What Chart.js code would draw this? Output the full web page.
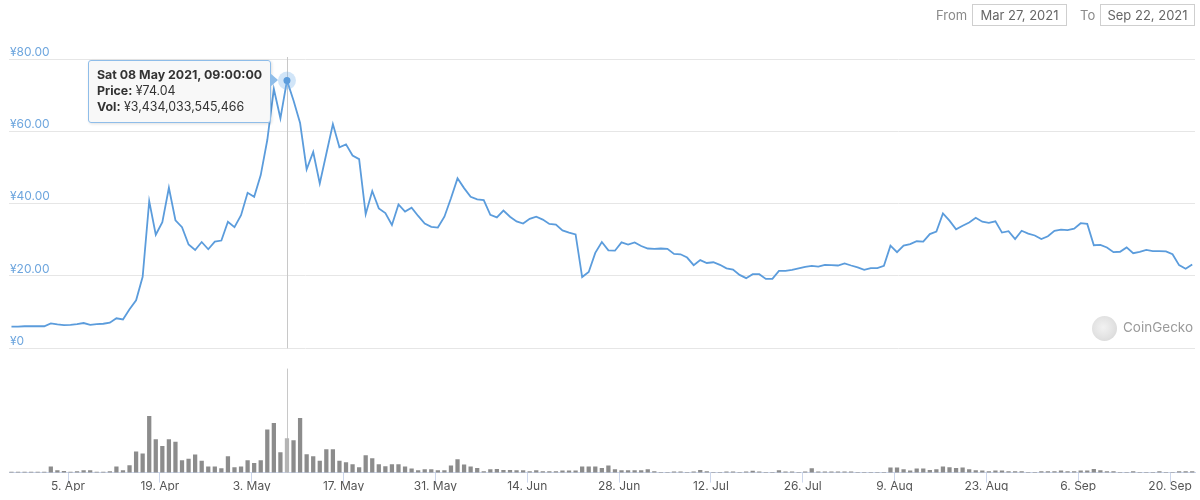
<!DOCTYPE html>
<html>
<head>
<meta charset="utf-8">
<title>Price chart</title>
<script src="https://cdn.jsdelivr.net/npm/chart.js@4.4.1/dist/chart.umd.min.js"></script>
<style>
	html, body { margin: 0; padding: 0; background: #fff; }
	body { position: relative; width: 1200px; height: 500px; overflow: hidden; font-family: Inter, 'Noto Sans', sans-serif; }
	#wrap { position: absolute; left: 0; top: 0; width: 1200px; height: 500px; }
	.lbl { position: absolute; top: 7px; font-size: 13px; color: #8a8a8a; }
	.box { position: absolute; top: 4px; width: 93px; height: 20px; border: 1px solid #cfcfcf; font-size: 13px; color: #666; line-height: 20px; text-align: center; }
	#tip { position: absolute; display: none; box-sizing: border-box; padding: 6px 8px 7px 8px; background: rgba(247, 247, 247, 0.92); border: 1px solid #8fbde9; border-radius: 3px; box-shadow: 1px 1px 3px rgba(0, 0, 0, 0.12); font-size: 12.4px; line-height: 16px; color: #333; white-space: nowrap; }
	#tip b { font-weight: 700; }
	#tip:after { content: ''; position: absolute; right: -8px; top: 12px; border-top: 7px solid transparent; border-bottom: 7px solid transparent; border-left: 8px solid #8fbde9; }
	#gecko { position: absolute; left: 1092px; top: 314px; height: 26px; font-size: 13.5px; color: #9b9b9b; line-height: 26px; }
	#gecko span.logo { display: inline-block; width: 25px; height: 25px; border-radius: 50%; background: radial-gradient(circle at 45% 45%, #f2f2f2 0, #e2e2e2 55%, #d2d2d2 100%); vertical-align: middle; margin-right: 6px; }
</style>
</head>
<body>
<div id="wrap"><canvas id="price-chart" width="1200" height="500"></canvas></div>
<div class="lbl" style="left:936px">From</div>
<div class="box" style="left:972px">Mar 27, 2021</div>
<div class="lbl" style="left:1080px">To</div>
<div class="box" style="left:1100px">Sep 22, 2021</div>
<div id="gecko"><span class="logo"></span>CoinGecko</div>
<div id="tip"></div>
<script>
const START = Date.UTC(2021, 2, 27, 9); // first point, 09:00
const HOUR_OFFSET = 9 / 24;
const HOVER_INDEX = 42; // Sat 08 May

// price in yen, one per day from 27 Mar
const price = [
	6.0, 6.0, 6.1, 6.1, 6.1, 6.1,
	6.9, 6.6, 6.4, 6.5, 6.7, 7.0, 6.5, 6.7, 6.8, 7.1, 8.3, 8.0,
	10.8, 13.3, 19.8, 40.7, 31.4, 34.9, 44.4, 35.4, 33.5, 28.7, 27.2, 29.4,
	27.4, 29.5, 29.8, 35.0, 33.5, 36.8, 43.0, 41.9, 47.9, 57.6, 71.7, 63.6,
	74.04, 68.5, 62.3, 49.5, 54.3, 45.6, 53.8, 62.0, 55.6, 56.4, 53.3, 52.3,
	37.1, 43.5, 38.7, 37.4, 34.1, 39.8, 37.8, 38.9, 36.6, 34.5, 33.6, 33.4,
	36.4, 41.5, 47.0, 44.3, 41.9, 41.2, 41.0, 36.9, 36.2, 38.1, 36.4, 35.1,
	34.5, 35.8, 36.4, 35.6, 34.4, 34.2, 32.6, 32.0, 31.5, 19.7, 21.1, 26.4,
	29.4, 27.1, 27.0, 29.3, 28.7, 29.3, 28.3, 27.6, 27.5, 27.6, 27.5, 26.1,
	26.0, 25.1, 23.0, 24.4, 23.6, 23.8, 23.1, 22.1, 21.8, 20.3, 19.4, 20.5,
	20.5, 19.2, 19.2, 21.4, 21.4, 21.7, 22.1, 22.5, 22.8, 22.6, 23.1, 23.0,
	22.9, 23.5, 22.9, 22.4, 21.7, 22.2, 22.2, 22.8, 28.4, 26.6, 28.4, 28.8,
	29.6, 29.5, 31.6, 32.3, 37.3, 35.3, 32.9, 33.9, 34.8, 36.1, 35.0, 34.7,
	35.1, 32.0, 32.4, 30.2, 32.5, 31.7, 31.2, 30.2, 31.0, 32.5, 32.8, 32.7,
	33.1, 34.6, 34.4, 28.5, 28.6, 27.9, 26.6, 26.7, 27.9, 26.3, 26.7, 27.2,
	26.9, 26.9, 26.8, 26.0, 23.0, 22.0, 23.2,
];

// volume in trillions of yen
const volume = [
	0.05, 0.05, 0.05, 0.05, 0.05, 0.05,
	0.57, 0.2, 0.13, 0.05, 0.1, 0.2, 0.2, 0.05, 0.05, 0.1, 0.57, 0.2,
	0.7, 2.1, 1.9, 5.65, 3.33, 2.63, 3.33, 3.06, 1.21, 1.35, 1.78, 1.15,
	0.57, 0.57, 0.4, 1.62, 0.5, 0.57, 1.21, 0.94, 1.21, 4.31, 4.95, 2.02,
	3.434033545466, 3.23, 5.45, 1.82, 1.62, 1.15, 2.32, 2.32, 1.15, 1.0, 0.8, 0.5,
	1.72, 1.41, 0.8, 0.6, 0.8, 0.8, 0.57, 0.37, 0.2, 0.3, 0.3, 0.2,
	0.2, 0.67, 1.31, 0.77, 0.57, 0.44, 0.1, 0.3, 0.34, 0.24, 0.24, 0.2,
	0.2, 0.1, 0.2, 0.1, 0.1, 0.1, 0.17, 0.17, 0.17, 0.57, 0.57, 0.57,
	0.44, 0.67, 0.3, 0.2, 0.2, 0.2, 0.2, 0.3, 0.1, 0.02, 0.02, 0.08,
	0.08, 0.02, 0.08, 0.24, 0.1, 0.02, 0.02, 0.08, 0.08, 0.02, 0.08, 0.15,
	0.08, 0.02, 0.02, 0.2, 0.08, 0.08, 0.02, 0.08, 0.4, 0.08, 0.08, 0.08,
	0.08, 0.08, 0.08, 0.02, 0.02, 0.02, 0.02, 0.02, 0.47, 0.47, 0.3, 0.17,
	0.37, 0.37, 0.24, 0.3, 0.57, 0.5, 0.44, 0.47, 0.3, 0.2, 0.17, 0.1,
	0.17, 0.17, 0.1, 0.1, 0.1, 0.02, 0.02, 0.1, 0.1, 0.1, 0.17, 0.1,
	0.1, 0.17, 0.17, 0.34, 0.2, 0.1, 0.1, 0.02, 0.02, 0.1, 0.02, 0.02,
	0.02, 0.1, 0.02, 0.02, 0.1, 0.1, 0.1,
];

// x axis ticks, days after 27 Mar
const tickDays = [9, 23, 37, 51, 65, 79, 93, 107, 121, 135, 149, 163, 177];
const tickLabels = ['5. Apr', '19. Apr', '3. May', '17. May', '31. May', '14. Jun', '28. Jun', '12. Jul', '26. Jul', '9. Aug', '23. Aug', '6. Sep', '20. Sep'];
const priceTicks = [0, 20, 40, 60, 80];

const COLORS = {
	line: '#5b9cdc',
	halo: 'rgba(124, 181, 236, 0.35)',
	bar: '#8c8c8c',
	bar_hover: '#b4b4b4',
	grid: '#e6e6e6',
	axis: '#ccd6eb',
	cross: '#c8c8c8',
	ylabel: '#6ea6de',
	xlabel: '#555',
};
const WEEKDAYS = ['Sun', 'Mon', 'Tue', 'Wed', 'Thu', 'Fri', 'Sat'];
const MONTHS = ['Jan', 'Feb', 'Mar', 'Apr', 'May', 'Jun', 'Jul', 'Aug', 'Sep', 'Oct', 'Nov', 'Dec'];

Chart.defaults.font.family = "Inter, 'Noto Sans', sans-serif";

const pad2 = n => String(n).padStart(2, '0');

function showTip(chart) {
	const el = chart.getDatasetMeta(0).data[HOVER_INDEX];
	const d = new Date(START + HOVER_INDEX * 86400000);
	const title = `${WEEKDAYS[d.getUTCDay()]} ${pad2(d.getUTCDate())} ${MONTHS[d.getUTCMonth()]} ${d.getUTCFullYear()}, ${pad2(d.getUTCHours())}:00:00`;
	const vol = Math.round(volume[HOVER_INDEX] * 1e12).toLocaleString('en-US');
	const tip = document.getElementById('tip');
	tip.innerHTML = `<b>${title}</b><br><b>Price:</b> ¥${price[HOVER_INDEX].toFixed(2)}<br><b>Vol:</b> ¥${vol}`;
	tip.style.display = 'block';
	tip.style.left = (el.x - 16 - tip.offsetWidth) + 'px';
	tip.style.top = (el.y - 21) + 'px';
}

// crosshair + hovered point
const hoverMarks = {
	id: 'hoverMarks',
	beforeDatasetsDraw(chart) {
		const ctx = chart.ctx;
		const x = Math.round(chart.getDatasetMeta(0).data[HOVER_INDEX].x) + 0.5;
		const yScale = chart.scales.y;
		ctx.save();
		ctx.strokeStyle = COLORS.cross;
		ctx.lineWidth = 1;
		ctx.beginPath();
		ctx.moveTo(x, chart.chartArea.top - 2);
		ctx.lineTo(x, yScale.getPixelForValue(0));
		ctx.moveTo(x, yScale.getPixelForValue(-5.6));
		ctx.lineTo(x, chart.chartArea.bottom);
		ctx.stroke();
		ctx.restore();
	},
	afterDatasetsDraw(chart) {
		const ctx = chart.ctx;
		const pt = chart.getDatasetMeta(0).data[HOVER_INDEX];
		ctx.save();
		ctx.fillStyle = COLORS.halo;
		ctx.beginPath();
		ctx.arc(pt.x, pt.y, 9, 0, Math.PI * 2);
		ctx.fill();
		ctx.fillStyle = COLORS.line;
		ctx.beginPath();
		ctx.arc(pt.x, pt.y, 3.5, 0, Math.PI * 2);
		ctx.fill();
		ctx.restore();
	},
	afterRender(chart) {
		showTip(chart);
	},
};

const data_chart = {
	datasets: [
		{
			type: 'line',
			label: 'Price',
			data: price.map((v, i) => ({ x: i + HOUR_OFFSET, y: v })),
			yAxisID: 'y',
			borderColor: COLORS.line,
			borderWidth: 1.8,
			pointRadius: 0,
			tension: 0,
			order: 1,
		},
		{
			type: 'bar',
			label: 'Vol',
			data: volume.map((v, i) => ({ x: i + HOUR_OFFSET, y: v })),
			yAxisID: 'y2',
			backgroundColor: ctx => ctx.dataIndex === HOVER_INDEX ? COLORS.bar_hover : COLORS.bar,
			barThickness: 3.6,
			order: 2,
		},
	],
};

const config_chart = {
	data: data_chart,
	options: {
		responsive: false,
		animation: false,
		events: [],
		layout: { padding: { left: 7, right: 5, top: 59, bottom: 9 } },
		plugins: {
			legend: { display: false },
			tooltip: { enabled: false },
		},
		scales: {
			x: {
				type: 'linear',
				offset: false,
				min: 0,
				max: 180.8,
				afterBuildTicks: axis => { axis.ticks = tickDays.map(v => ({ value: v })); },
				grid: { offset: false, drawOnChartArea: false, drawTicks: true, tickLength: 10, color: COLORS.axis },
				border: { color: COLORS.axis },
				ticks: {
					autoSkip: false,
					maxRotation: 0,
					padding: -3,
					color: COLORS.xlabel,
					font: { size: 12 },
					callback: (v, i) => tickLabels[i],
				},
			},
			y: {
				type: 'linear',
				position: 'left',
				min: -34.36,
				max: 80,
				afterBuildTicks: axis => { axis.ticks = priceTicks.map(v => ({ value: v })); },
				grid: { color: COLORS.grid, drawTicks: false },
				border: { display: false },
				ticks: {
					mirror: true,
					padding: 1,
					labelOffset: -7,
					color: COLORS.ylabel,
					font: { size: 12 },
					callback: v => v === 0 ? '¥0' : '¥' + v.toFixed(2),
				},
			},
			y2: {
				type: 'linear',
				display: false,
				min: 0,
				max: 41.6,
			},
		},
	},
	plugins: [hoverMarks],
};

const chart_ctx = document.getElementById('price-chart').getContext('2d');
new Chart(chart_ctx, config_chart);
</script>
</body>
</html>
